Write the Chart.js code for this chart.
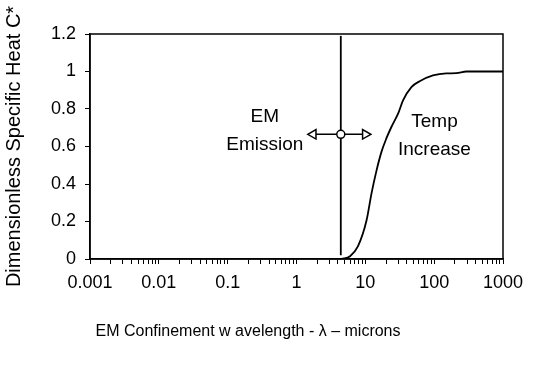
<!DOCTYPE html>
<html>
<head>
<meta charset="utf-8">
<script src="https://cdn.jsdelivr.net/npm/chart.js@4/dist/chart.umd.min.js"></script>
<style>
  html, body { margin: 0; padding: 0; background: #ffffff; }
  #wrap { width: 539px; height: 365px; }
</style>
</head>
<body>
<div id="wrap"><canvas id="c" width="539" height="365"></canvas></div>
<script>
// ---- data ----
const xTickLabels = ['0.001', '0.01', '0.1', '1', '10', '100', '1000'];
const yTickValues = [0, 0.2, 0.4, 0.6, 0.8, 1, 1.2];

// Temperature-increase curve (wavelength in microns, dimensionless C*)
const wavelength   = [4.5, 6.0, 7.8, 10.4, 12.3, 14.5, 17.1, 20.2, 23.9, 29.9, 35.3, 46.7, 61.6, 96, 150, 210, 293, 1000];
const specificHeat = [0, 0.015, 0.067, 0.205, 0.35, 0.47, 0.57, 0.643, 0.704, 0.775, 0.846, 0.917, 0.948, 0.979, 0.99, 0.991, 1.0, 1.0];

// EM emission marker (vertical line) and double arrow
const emissionX = [4.4, 4.4];
const emissionY = [0.02, 1.19];
const arrowX = [1.75, 4.4, 10];
const arrowY = [0.665, 0.665, 0.665];

// annotation text
const emLabel = ['EM', 'Emission'];
const tempLabel = ['Temp', 'Increase'];
const xTitle = 'EM Confinement w avelength - \u03bb \u2013 microns';
const yTitle = 'Dimensionless Specific Heat C*';

// ---- chart ----
const FONT = "'Liberation Sans', Arial, sans-serif";
const toPts = (xs, ys) => xs.map((x, i) => ({ x: x, y: ys[i] }));

const annotationPlugin = {
  id: 'annot',
  afterDraw(chart) {
    const ctx = chart.ctx;
    const xs = chart.scales.x, ys = chart.scales.y;
    const a = chart.chartArea;
    ctx.save();
    // frame around plot area
    ctx.strokeStyle = '#000';
    ctx.lineWidth = 1.5;
    ctx.strokeRect(a.left, a.top, a.right - a.left, a.bottom - a.top);
    // text labels
    ctx.fillStyle = '#000';
    ctx.textAlign = 'center';
    ctx.textBaseline = 'middle';
    ctx.font = '19px ' + FONT;
    const emCx = xs.getPixelForValue(0.347);
    ctx.fillText(emLabel[0], emCx, ys.getPixelForValue(0.756));
    ctx.fillText(emLabel[1], emCx, ys.getPixelForValue(0.607));
    const tCx = xs.getPixelForValue(101);
    ctx.fillText(tempLabel[0], tCx, ys.getPixelForValue(0.734));
    ctx.fillText(tempLabel[1], tCx, ys.getPixelForValue(0.58));
    // x axis title
    ctx.font = '16px ' + FONT;
    ctx.fillText(xTitle, 248, 332);
    ctx.restore();
  }
};

new Chart(document.getElementById('c'), {
  type: 'line',
  data: {
    datasets: [
      {
        label: 'arrows',
        data: toPts(arrowX, arrowY),
        borderColor: '#000',
        borderWidth: 1.5,
        pointStyle: ['triangle', 'circle', 'triangle'],
        rotation: [-90, 0, 90],
        pointRadius: [5.5, 4, 5.5],
        pointBorderWidth: 1.5,
        pointBackgroundColor: '#fff',
        pointBorderColor: '#000',
        fill: false
      },
      {
        label: 'emission',
        data: toPts(emissionX, emissionY),
        borderColor: '#000',
        borderWidth: 1.8,
        pointRadius: 0,
        fill: false
      },
      {
        label: 'C*',
        data: toPts(wavelength, specificHeat),
        borderColor: '#000',
        borderWidth: 1.8,
        pointRadius: 0,
        cubicInterpolationMode: 'monotone',
        fill: false
      }
    ]
  },
  options: {
    responsive: false,
    animation: false,
    events: [],
    layout: { padding: { left: 0, right: 36, top: 34, bottom: 0 } },
    plugins: { legend: { display: false }, tooltip: { enabled: false } },
    scales: {
      x: {
        type: 'logarithmic',
        min: 0.001,
        max: 1000,
        afterBuildTicks(scale) {
          const t = [];
          for (let e = -3; e <= 3; e++) {
            for (let m = 1; m <= 9; m++) {
              const v = Number((m * Math.pow(10, e)).toPrecision(6));
              if (v <= 1000) t.push({ value: v });
            }
          }
          scale.ticks = t;
        },
        afterFit(scale) { scale.height = 106; },
        grid: { drawOnChartArea: false, drawTicks: true, tickLength: 5, color: '#000', tickWidth: 1 },
        border: { display: true, color: '#000', width: 1.5 },
        ticks: {
          autoSkip: false,
          maxRotation: 0,
          padding: 8,
          color: '#000',
          font: { family: FONT, size: 18 },
          callback(value) {
            const lg = Math.log10(value);
            if (Math.abs(lg - Math.round(lg)) < 1e-9) {
              return xTickLabels[Math.round(lg) + 3];
            }
            return '';
          }
        }
      },
      y: {
        type: 'linear',
        min: 0,
        max: 1.2,
        afterBuildTicks(scale) { scale.ticks = yTickValues.map(v => ({ value: v })); },
        afterFit(scale) { scale.width = 90; },
        grid: { drawOnChartArea: false, drawTicks: true, tickLength: 5, color: '#000', tickWidth: 1 },
        border: { display: true, color: '#000', width: 1.5 },
        ticks: {
          padding: 9,
          color: '#000',
          font: { family: FONT, size: 18 },
          callback(value) { return String(Math.round(value * 10) / 10); }
        },
        title: {
          display: true,
          text: yTitle,
          color: '#000',
          font: { family: FONT, size: 20 },
          padding: { top: 2, bottom: 0 }
        }
      }
    }
  },
  plugins: [annotationPlugin]
});
</script>
</body>
</html>
